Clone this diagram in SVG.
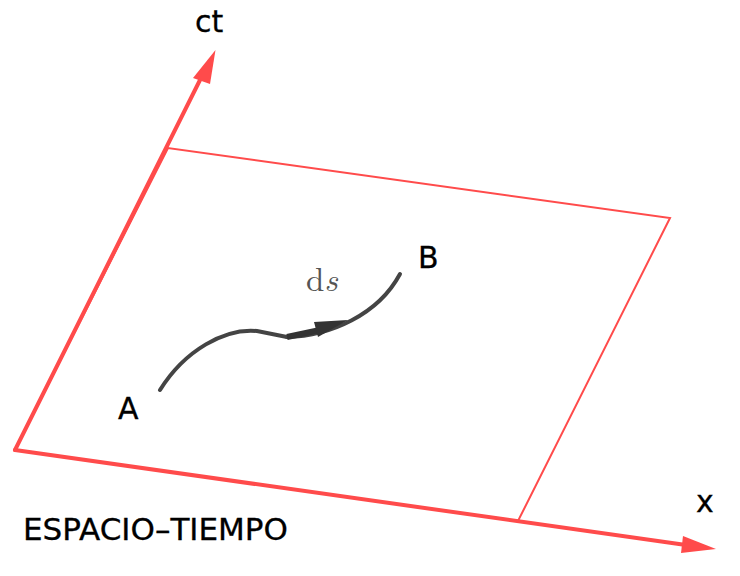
<svg xmlns="http://www.w3.org/2000/svg" width="740" height="576" viewBox="0 0 740 576">
<style>
.axis{stroke:#ff4b4b;stroke-width:4;fill:none;stroke-linecap:round}
.frame{stroke:#ff4b4b;stroke-width:2;fill:none}
.lbl{font-family:"DejaVu Sans",sans-serif;fill:#000;stroke:#000;stroke-width:0.3px;font-size:30px}
.curve{stroke:#444;stroke-width:4;fill:none;stroke-linecap:round}
</style>
<rect width="740" height="576" fill="#fff"/>
<g id="connectors">
<polygon class="frame" points="15,450 168,148 670,218 518,521"/>
<line class="axis" x1="15" y1="450" x2="200" y2="80"/>
<polygon points="215.5,50 193,78 210,84" fill="#ff4b4b"/>
<line class="axis" x1="15" y1="450" x2="686" y2="545"/>
<polygon points="716,549 683,536 681,553" fill="#ff4b4b"/>
</g>
<g id="path-ds">
<path class="curve" d="M160,390 C185,350 225,328 257,331 Q272,334 287,337"/>
<path class="curve" d="M287,337 C330,336 378,315 400,274"/>
<path d="M287,337 L320,330" stroke="#333" stroke-width="6" fill="none"/>
<polygon points="314,322 348,320 318,337" fill="#333"/>
</g>
<g id="label-ct"><text class="lbl" x="195" y="32">ct</text></g>
<g id="label-x"><text class="lbl" x="696" y="512">x</text></g>
<g id="label-A"><text class="lbl" x="118" y="419">A</text></g>
<g id="label-B"><text class="lbl" x="418" y="268">B</text></g>
<g id="label-ds"><text x="306" y="291" font-size="33" font-family="'Latin Modern Roman','DejaVu Serif',serif" fill="#555">d<tspan font-style="italic">s</tspan></text></g>
<g id="title"><text class="lbl" x="23" y="540" textLength="265" lengthAdjust="spacingAndGlyphs">ESPACIO–TIEMPO</text></g>
</svg>
